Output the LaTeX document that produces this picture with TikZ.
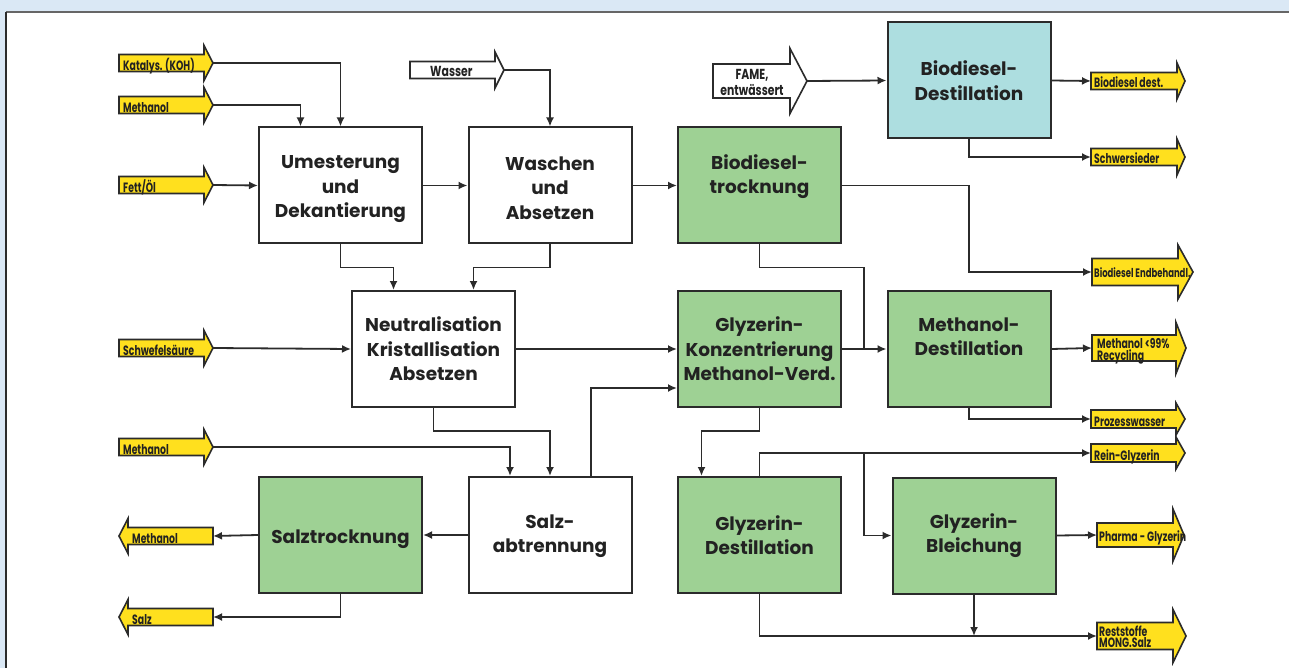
\documentclass[tikz,border=0pt]{standalone}
\usepackage{fontspec}
\setmainfont{Poppins}
\newfontfamily\boxfont{Poppins}
\newfontfamily\lblfont{Poppins}[FakeStretch=0.69]
\newfontfamily\lblfontw{Poppins}[FakeStretch=0.75]
\usetikzlibrary{arrows.meta,calc}
\definecolor{bgblue}{HTML}{DAE8F5}
\definecolor{yel}{HTML}{FFE01E}
\definecolor{grn}{HTML}{9ED194}
\definecolor{cyn}{HTML}{ADDEE0}
\definecolor{linec}{HTML}{2B2B2B}
\definecolor{txtc}{HTML}{222222}
\tikzset{
  procbox/.style={draw=linec, line width=2pt, minimum width=163pt, minimum height=116pt,
    align=center, inner sep=0pt, text=txtc, font=\boxfont\bfseries\fontsize{18.5}{24.5}\selectfont},
  wbox/.style={procbox, fill=white},
  gbox/.style={procbox, fill=grn},
  cbox/.style={procbox, fill=cyn},
  blk/.style={draw=linec, line width=1.6pt, line join=miter},
  albl/.style={inner sep=0pt, text=txtc, font=\lblfont\bfseries\fontsize{13.5}{9.5}\selectfont, align=left},
  wlbl/.style={inner sep=0pt, text=txtc, font=\lblfontw\bfseries\fontsize{14.5}{15.5}\selectfont, align=center},
  conn/.style={draw=linec, line width=1.8pt, -{Latex[length=9pt,width=8pt]}},
  plain/.style={draw=linec, line width=1.8pt},
}
\newcommand\lift[1]{\rule{0pt}{#1}}
% right-pointing block arrow: name, x-left, x-neck, x-tip, y-center, body half, head half, fill
\newcommand\rblk[8]{%
  \path[blk, fill=#8] (#2,#5-#6) -- (#3,#5-#6) -- (#3,#5-#7) -- (#4,#5) -- (#3,#5+#7) -- (#3,#5+#6) -- (#2,#5+#6) -- cycle;
  \coordinate (#1) at (#4,#5);
  \coordinate (#1-in) at (#2,#5);}
% left-pointing block arrow: name, x-tip, x-neck, x-right, y-center, body half, head half, fill
\newcommand\lblk[8]{%
  \path[blk, fill=#8] (#4,#5-#6) -- (#3,#5-#6) -- (#3,#5-#7) -- (#2,#5) -- (#3,#5+#7) -- (#3,#5+#6) -- (#4,#5+#6) -- cycle;
  \coordinate (#1) at (#4,#5);}
\begin{document}
\begin{tikzpicture}[x=1pt,y=-1pt]
\useasboundingbox (0,0) rectangle (1289,668);
\fill[bgblue] (0,0) rectangle (1289,668);
\fill[white] (6,12) rectangle (1289,668);
\draw[gray!80!black, line width=1.2pt] (6,12) -- (1289,12);
\draw[linec, line width=2pt] (6,12) -- (6,668);

% process boxes
\node[wbox] (umest) at (340.5,185.5) {\lift{21pt}Umesterung\\und\\Dekantierung};
\node[wbox] (wasch) at (550,185.5) {\lift{19pt}Waschen\\und\\Absetzen};
\node[gbox] (bdtr) at (759.5,185.5) {\lift{24pt}Biodiesel-\\trocknung\\\strut};
\node[cbox] (bddest) at (969,80.5) {Biodiesel-\\Destillation};
\node[wbox] (neut) at (433.5,349) {Neutralisation\\Kristallisation\\Absetzen};
\node[gbox] (gkonz) at (759.5,349) {Glyzerin-\\Konzentrierung\\Methanol-Verd.};
\node[gbox] (mdest) at (969,349) {\lift{21pt}Methanol-\\Destillation\\\strut};
\node[gbox] (salztr) at (340.5,535) {\lift{22pt}Salztrocknung};
\node[wbox] (salzab) at (550,535) {\lift{16pt}Salz-\\abtrennung};
\node[gbox] (gdest) at (759.5,535) {Glyzerin-\\Destillation};
\node[gbox] (gbleich) at (974,535.5) {Glyzerin-\\Bleichung};

% input arrows
\rblk{kat}{119}{204}{213}{63}{8.5}{17.5}{yel}
\node[albl, anchor=base west] (kat-t) at (123,70.5) {Katalys. (KOH)};
\rblk{meth1}{119}{204}{213}{105}{8.5}{17.5}{yel}
\node[albl, anchor=base west] (meth1-t) at (123,112.5) {Methanol};
\rblk{fett}{119}{204}{213}{185}{8.5}{17.5}{yel}
\node[albl, anchor=base west] (fett-t) at (123,192.5) {Fett/Öl};
\rblk{schw}{119}{204}{213}{348}{8.5}{17.5}{yel}
\node[albl, anchor=base west] (schw-t) at (123,355.5) {Schwefelsäure};
\rblk{meth2}{119}{204}{213}{447}{8.5}{17.5}{yel}
\node[albl, anchor=base west] (meth2-t) at (123,454.5) {Methanol};
\rblk{wasser}{410}{495}{504}{70}{8.5}{18}{white}
\node[wlbl, anchor=base west] (wasser-t) at (430,77) {Wasser};
\rblk{fame}{713}{790}{807}{81}{17}{32.5}{white}
\node[wlbl, anchor=base] (fame-t) at (752,95.5) {FAME,\\entwässert};

% output arrows (left)
\lblk{mout}{119}{128}{213}{536}{8.5}{17.5}{yel}
\node[albl, anchor=base west] (mout-t) at (132,543.5) {Methanol};
\lblk{salz}{119}{128}{213}{617}{8.5}{17.5}{yel}
\node[albl, anchor=base west] (salz-t) at (132,624.5) {Salz};

% output arrows (right)
\rblk{bdd}{1091}{1177}{1185}{81}{8.5}{18}{yel}
\node[albl, anchor=base west] (bdd-t) at (1094,88) {Biodiesel dest.};
\rblk{schwer}{1091}{1177}{1185}{157}{8.5}{18}{yel}
\node[albl, anchor=base west] (schwer-t) at (1094,164) {Schwersieder};
\rblk{endb}{1092}{1178}{1193}{272}{13.5}{27}{yel}
\node[albl, anchor=base west, font=\lblfont\bfseries\fontsize{12.3}{9.5}\selectfont] (endb-t) at (1094,277) {Biodiesel Endbehandl.};
\rblk{mrec}{1092}{1176}{1186}{348}{13}{25.5}{yel}
\node[albl, anchor=base west] (mrec-t) at (1097,360) {Methanol <99\%\\Recycling};
\rblk{proz}{1091}{1176}{1185}{419}{9}{16}{yel}
\node[albl, anchor=base west] (proz-t) at (1094,426) {Prozesswasser};
\rblk{rein}{1091}{1176}{1185}{453}{9}{16}{yel}
\node[albl, anchor=base west] (rein-t) at (1094,460) {Rein-Glyzerin};
\rblk{pharma}{1097}{1173}{1184}{535}{12}{26}{yel}
\node[albl, anchor=base west] (pharma-t) at (1099,541) {Pharma - Glyzerin};
\rblk{rest}{1097}{1173}{1186}{636}{13.5}{26.5}{yel}
\node[albl, anchor=base west, font=\lblfont\bfseries\fontsize{13.5}{11.5}\selectfont] (rest-t) at (1099,647.5) {Reststoffe\\MONG.Salz};

% junction coordinates
\coordinate (j2) at ($(gkonz.east)!0.5!(mdest.west)$);

% connectors
\draw[conn] (kat) -| (umest.north);
\draw[conn] (meth1) -| ([xshift=-40pt]umest.north);
\draw[conn] (fett) -- (umest.west);
\draw[conn] (umest) -- (wasch);
\draw[conn] (wasser) -| (wasch.north);
\draw[conn] (wasch) -- (bdtr);
\draw[conn] (fame) -- (bddest.west);
\draw[conn] (bddest.east) -- (bdd-in);
\draw[conn] (bddest.south) |- (schwer-in);
\draw[conn] (bdtr.east) -| (mdest.north |- endb-in) -- (endb-in);
\draw[conn] (umest.south) -- ++(0,23) -| ([xshift=-40pt]neut.north);
\draw[conn] (wasch.south) -- ++(0,23) -| ([xshift=40pt]neut.north);
\draw[conn] (schw) -- (neut.west);
\draw[conn] (neut) -- (gkonz);
\draw[plain] (bdtr.south) -- ++(0,23) -| (j2);
\draw[conn] (gkonz) -- (mdest);
\draw[conn] (mdest.east) -- (mrec-in);
\draw[conn] (mdest.south) |- (proz-in);
\draw[conn] (neut.south) -- ++(0,23) -| (salzab.north);
\draw[conn] (meth2) -| ([xshift=-40pt]salzab.north);
\draw[conn] ([xshift=41pt]salzab.north) |- ([yshift=-39pt]gkonz.west);
\draw[conn] (gkonz.south) -- ++(0,23) -| ([xshift=-58pt]gdest.north);
\draw[conn] (salzab) -- (salztr);
\draw[conn] (salztr.west) -- (mout);
\draw[conn] (salztr.south) |- (salz);
\draw[conn] (gdest.north) |- (rein-in);
\draw[conn] (j2 |- rein-in) |- (gbleich.west);
\draw[conn] (gbleich.east) -- (pharma-in);
\draw[conn] (gdest.south) |- (rest-in);
\draw[conn] (gbleich.south) -- (gbleich.south |- rest-in);
\end{tikzpicture}
\end{document}
